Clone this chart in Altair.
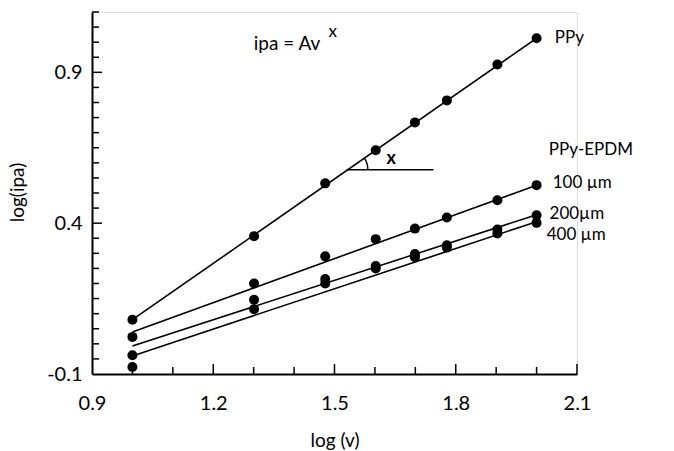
import altair as alt
import pandas as pd

# ---------------- data ----------------
log_v = [1.0, 1.301, 1.477, 1.602, 1.699, 1.778, 1.903, 2.0]
ppy = [0.080, 0.357, 0.532, 0.642, 0.734, 0.807, 0.926, 1.013]
epdm_100 = [0.023, 0.200, 0.290, 0.347, 0.382, 0.419, 0.476, 0.526]
epdm_200 = [-0.038, 0.146, 0.215, 0.258, 0.298, 0.327, 0.379, 0.426]
epdm_400 = [-0.077, 0.115, 0.200, 0.250, 0.287, 0.319, 0.366, 0.401]
series_names = ["PPy", "100 µm", "200 µm", "400 µm"]

# fitted straight lines (value at log v = 1.0 and 2.0)
fit_x = [1.0, 2.0]
fit_ppy = [0.080, 1.013]
fit_100 = [0.039, 0.526]
fit_200 = [-0.007, 0.428]
fit_400 = [-0.040, 0.405]

# text labels at the right end
label_text = ["PPy", "PPy-EPDM", "100 µm", "200µm", "400 µm"]
label_x = [2.045, 2.03, 2.04, 2.032, 2.025]
label_y = [1.013, 0.641, 0.533, 0.429, 0.362]

# equation and slope annotation
eq_text = "ipa = Av"
eq_x, eq_y = 1.30, 0.995
sup_text = "x"
sup_x, sup_y = 1.485, 1.035
angle_x = [1.53, 1.745]
angle_y = 0.577
angle_label_x, angle_label_y = 1.64, 0.612

# axes
x_domain = [0.9, 2.1]
y_domain = [-0.1, 1.1]
x_labels = [0.9, 1.2, 1.5, 1.8, 2.1]
y_labels = [-0.1, 0.4, 0.9]
x_minor = [1.0, 1.1, 1.3, 1.4, 1.6, 1.7, 1.9, 2.0]
x_major = [1.2, 1.5, 1.8, 2.1]
y_minor = [-0.05, 0.0, 0.05, 0.1, 0.15, 0.2, 0.25, 0.3, 0.35, 0.45, 0.5,
           0.55, 0.6, 0.65, 0.7, 0.75, 0.8, 0.85, 0.95, 1.0, 1.05, 1.1]
y_major = [0.4, 0.9]

FONT = "Lato"
W, H = 485, 362

# ---------------- tables ----------------
rows = []
for name, vals in zip(series_names, [ppy, epdm_100, epdm_200, epdm_400]):
    for xv, yv in zip(log_v, vals):
        rows.append({"series": name, "x": xv, "y": yv})
pts_df = pd.DataFrame(rows)

frows = []
for name, vals in zip(series_names, [fit_ppy, fit_100, fit_200, fit_400]):
    for xv, yv in zip(fit_x, vals):
        frows.append({"series": name, "x": xv, "y": yv})
fit_df = pd.DataFrame(frows)

lab_df = pd.DataFrame({"text": label_text, "x": label_x, "y": label_y})

xs = alt.Scale(domain=x_domain, nice=False, zero=False)
ys = alt.Scale(domain=y_domain, nice=False, zero=False)

x_axis = alt.Axis(values=x_labels, format=".1f", ticks=False, grid=False,
                  domainColor="black", domainWidth=2, labelFontSize=20,
                  labelFont=FONT, labelColor="black", labelPadding=19,
                  title="log (v)", titleFont=FONT, titleFontSize=19,
                  titleFontWeight="normal", titleColor="black",
                  titleBaseline="alphabetic", titleY=72, labelFlush=False)
y_axis = alt.Axis(values=y_labels, format=".1f", ticks=False, grid=False,
                  domainColor="black", domainWidth=2, labelFontSize=20,
                  labelFont=FONT, labelColor="black", labelPadding=10,
                  labelExpr="replace(datum.label, '\u2212', '-')",
                  title="log(ipa)", titleFont=FONT, titleFontSize=19,
                  titleFontWeight="normal", titleColor="black",
                  titleBaseline="alphabetic", titleX=-69, titleY=180,
                  titleAngle=-90, labelFlush=False)


def X(field):
    return alt.X(field, scale=xs, axis=x_axis)


def Y(field):
    return alt.Y(field, scale=ys, axis=y_axis)


points = alt.Chart(pts_df).mark_circle(size=100, color="black", opacity=1).encode(
    x=X("x:Q"), y=Y("y:Q"), detail="series:N",
)

fits = alt.Chart(fit_df).mark_line(color="black", strokeWidth=1.6).encode(
    x=X("x:Q"), y=Y("y:Q"), detail="series:N",
)


def yticks(vals, length):
    return alt.Chart(pd.DataFrame({"y": vals})).mark_rule(color="black", strokeWidth=1.5).encode(
        y=Y("y:Q"), x=alt.value(0), x2=alt.value(length),
    )


def xticks(vals, length):
    return alt.Chart(pd.DataFrame({"x": vals})).mark_rule(color="black", strokeWidth=1.5).encode(
        x=X("x:Q"), y=alt.value(H), y2=alt.value(H - length),
    )


labels = alt.Chart(lab_df).mark_text(align="left", baseline="middle", font=FONT,
                                     fontSize=17, color="black").encode(
    x=X("x:Q"), y=Y("y:Q"), text="text:N",
)

eq = alt.Chart(pd.DataFrame({"t": [eq_text], "x": [eq_x], "y": [eq_y]})).mark_text(
    align="left", baseline="middle", font=FONT, fontSize=19, color="black").encode(
    x=X("x:Q"), y=Y("y:Q"), text="t:N")

sup = alt.Chart(pd.DataFrame({"t": [sup_text], "x": [sup_x], "y": [sup_y]})).mark_text(
    align="left", baseline="middle", font=FONT, fontSize=17, color="black").encode(
    x=X("x:Q"), y=Y("y:Q"), text="t:N")

ang_lab = alt.Chart(pd.DataFrame({"t": ["x"], "x": [angle_label_x], "y": [angle_label_y]})).mark_text(
    align="center", baseline="middle", font=FONT, fontSize=18, fontWeight="bold", color="black").encode(
    x=X("x:Q"), y=Y("y:Q"), text="t:N")

ang_line = alt.Chart(pd.DataFrame({"x": [angle_x[0]], "x2": [angle_x[1]], "y": [angle_y]})).mark_rule(
    color="black", strokeWidth=1.5).encode(
    x=X("x:Q"), x2="x2:Q", y=Y("y:Q"))

arc = alt.Chart(pd.DataFrame({"x": [angle_x[0]], "y": [angle_y]})).mark_arc(
    radius=22, radius2=20.5, theta=0.965, theta2=1.5708, color="black").encode(
    x=X("x:Q"), y=Y("y:Q"))

chart = alt.layer(
    fits, points,
    yticks(y_minor, 7), yticks(y_major, 10),
    xticks(x_minor, 7), xticks(x_major, 10),
    labels, eq, sup, ang_lab, ang_line, arc,
).properties(
    width=W, height=H,
    autosize=alt.AutoSizeParams(type="none"),
    padding={"left": 92, "top": 12, "right": 97, "bottom": 77},
).configure_view(stroke=None).configure(background="white")

chart.save("out.html", embed_options={"renderer": "svg", "actions": False})
